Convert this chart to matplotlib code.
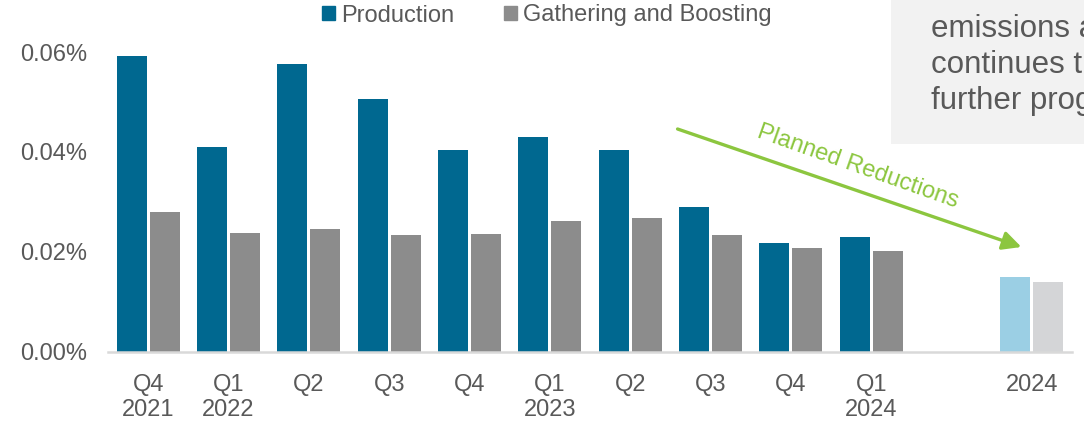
import matplotlib
matplotlib.use("Agg")
import matplotlib.pyplot as plt
from matplotlib.patches import Patch, Rectangle
import numpy as np

plt.rcParams['font.family'] = ['Liberation Sans', 'DejaVu Sans']

categories = ["Q4\n2021", "Q1\n2022", "Q2", "Q3", "Q4", "Q1\n2023", "Q2", "Q3", "Q4", "Q1\n2024", "", "2024"]
production = [0.0592, 0.0410, 0.0576, 0.0506, 0.0404, 0.0430, 0.0404, 0.0290, 0.0218, 0.0230, None, 0.0150]
gathering = [0.0280, 0.0238, 0.0246, 0.0234, 0.0236, 0.0262, 0.0268, 0.0234, 0.0208, 0.0202, None, 0.0140]
is_plan = [False] * 11 + [True]
yticks = [0.00, 0.02, 0.04, 0.06]

c_prod = "#006890"
c_gath = "#8c8c8c"
c_prod_plan = "#9bcfe4"
c_gath_plan = "#d4d5d7"
c_text = "#595959"
c_green = "#8cc63f"

fig = plt.figure(figsize=(10.84, 4.24), dpi=100)
ax = fig.add_axes([108/1084, 72/424, 964/1084, 300/424])

w = 0.374
off = 0.206
for i, (p, g, plan) in enumerate(zip(production, gathering, is_plan)):
    if p is None:
        continue
    ax.bar(i - off, p, width=w, color=c_prod_plan if plan else c_prod, zorder=2)
    ax.bar(i + off, g, width=w, color=c_gath_plan if plan else c_gath, zorder=2)

ax.set_xlim(-0.5, len(categories) - 0.5)
ax.set_ylim(0, 0.06)
ax.set_yticks(yticks)
ax.set_yticklabels([f"{v:.2f}%" for v in yticks])
ax.set_xticks(range(len(categories)))
ax.set_xticklabels(categories, linespacing=1.17)
ax.tick_params(axis='both', length=0, labelsize=17, labelcolor=c_text)
ax.tick_params(axis='y', pad=15)
ax.tick_params(axis='x', pad=16)
for s in ['top', 'right', 'left']:
    ax.spines[s].set_visible(False)
ax.spines['bottom'].set_color('#d9d9d9')
ax.spines['bottom'].set_linewidth(1.8)

handles = [Patch(color=c_prod, label="Production"), Patch(color=c_gath, label="Gathering and Boosting")]
fig.legend(handles=handles, loc='center', bbox_to_anchor=(547/1084, 1 - 15.5/424), ncol=2,
           frameon=False, fontsize=17, handlelength=0.55, handleheight=0.55, handletextpad=0.25,
           columnspacing=2.1, labelcolor=c_text, borderpad=0)

# arrow + label
ax.annotate("", xy=(10.87, 0.0210), xytext=(6.59, 0.0446),
            arrowprops=dict(arrowstyle='-|>', color=c_green, lw=2.4, mutation_scale=28,
                            shrinkA=0, shrinkB=0), annotation_clip=False)
ax.text(8.83, 0.0370, "Planned Reductions", color=c_green, fontsize=17, rotation=-19.5,
        rotation_mode='anchor', ha='center', va='center')

# cut-off text box in top right
fig.patches.append(Rectangle((891/1084, 1 - 144/424), 1, 144/424, transform=fig.transFigure,
                             facecolor='#f2f2f2', edgecolor='none', zorder=0))
box_lines = ["emissions and", "continues the", "further progress"]
for k, line in enumerate(box_lines):
    fig.text(931/1084, 1 - (37 + 36*k)/424, line, fontsize=22.5, color=c_text, ha='left', va='baseline')

fig.savefig("out.png", dpi=100)
